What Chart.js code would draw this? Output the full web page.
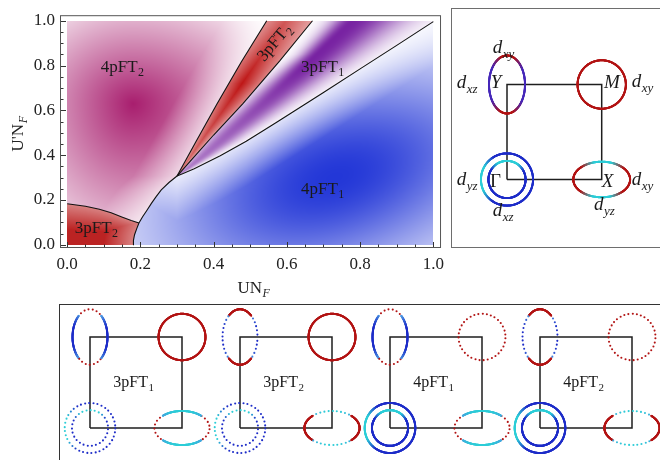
<!DOCTYPE html>
<html>
<head>
<meta charset="utf-8">
<script src="https://cdn.jsdelivr.net/npm/chart.js@4.4.1/dist/chart.umd.min.js"></script>
<style>
body { margin:0; width:660px; height:460px; overflow:hidden; position:relative; background:#fff; }
canvas, .box { position:absolute; }
#boxTop { left:451px; top:8px; width:240px; height:238px; border:1px solid #6e6e6e; }
#boxBottom { left:59px; top:304px; width:640px; height:200px; border:1px solid #333; }
</style>
</head>
<body>
<div class="box" id="boxTop"></div>
<div class="box" id="boxBottom"></div>
<canvas id="phase" width="450" height="300" style="left:0;top:0"></canvas>
<canvas id="bz_top" width="208" height="238" style="left:452px;top:9px"></canvas>
<canvas id="bz_0" width="160" height="155" style="left:58px;top:305px"></canvas>
<canvas id="bz_1" width="160" height="155" style="left:208px;top:305px"></canvas>
<canvas id="bz_2" width="160" height="155" style="left:358px;top:305px"></canvas>
<canvas id="bz_3" width="160" height="155" style="left:508px;top:305px"></canvas>
<script>
// ---- phase diagram (UN_F, U'N_F) ----
const xTickValues = [0, 0.2, 0.4, 0.6, 0.8, 1.0];
const yTickValues = [0, 0.2, 0.4, 0.6, 0.8, 1.0];

// 3pFT2 dome, bottom left
const domeUN  = [0, 0.05, 0.088, 0.12, 0.151, 0.175, 0.196];
const domeUpN = [0.183, 0.172, 0.159, 0.143, 0.123, 0.108, 0.097];
// 4pFT2 | 4pFT1 line up to the triple point
const lowUN  = [0.18, 0.181, 0.184, 0.19, 0.196, 0.206, 0.217, 0.23, 0.243, 0.257, 0.278, 0.3];
const lowUpN = [0, 0.02, 0.045, 0.072, 0.097, 0.125, 0.152, 0.185, 0.215, 0.245, 0.278, 0.307];
// edges of the 3pFT2 wedge
const wedgeLUN  = [0.3, 0.35, 0.409, 0.475, 0.545];
const wedgeLUpN = [0.307, 0.455, 0.628, 0.815, 1.0];
const wedgeRUN  = [0.3, 0.34, 0.40, 0.48, 0.58, 0.67];
const wedgeRUpN = [0.307, 0.38, 0.49, 0.63, 0.82, 1.0];
// 3pFT1 | 4pFT1 line
const edgeUN  = [0.3, 0.315, 0.347, 0.418, 0.489, 0.57, 0.7, 0.8, 0.9, 1.0];
const edgeUpN = [0.307, 0.317, 0.339, 0.397, 0.462, 0.545, 0.68, 0.785, 0.89, 0.996];

// region labels
const phaseText  = ['4pFT', '3pFT', '4pFT', '3pFT', '3pFT'];
const phaseSub   = ['2', '1', '1', '2', '2'];
const phaseLabUN = [0.150, 0.697, 0.697, 0.079, 0.563];
const phaseLabUpN = [0.772, 0.772, 0.226, 0.051, 0.905];
const phaseLabRot = [0, 0, 0, 0, -50];

// ---- Fermi surface sketches ----
const zoneKx = [0, 1, 1, 0, 0];
const zoneKy = [0, 0, 1, 1, 0];
const pocketName = ['Y', 'M', 'Gout', 'Gin', 'X'];
const pocketKx = [0, 1, 0, 0, 1];
const pocketKy = [1, 1, 0, 0, 0];
const pocketRx = [0.19, 0.255, 0.275, 0.196, 0.30];
const pocketRy = [0.305, 0.255, 0.275, 0.196, 0.187];

const stateText = ['3pFT', '3pFT', '4pFT', '4pFT'];
const stateSub  = ['1', '2', '1', '2'];
const solidXY   = [false, true, false, true];   // dxy parts of Y and X
const solidXZYZ = [true, false, true, false];   // dxz / dyz parts of Y and X
const solidM    = [true, true, false, false];
const solidG    = [false, false, true, true];

const mathText = ['d', 'd', 'Y', 'M', 'd', 'd', 'Γ', 'd', 'X', 'd', 'd'];
const mathSub  = ['xy', 'xz', '', '', 'xy', 'yz', '', 'xz', '', 'xy', 'yz'];
const mathKx = [-0.151, -0.531, -0.172, 1.024, 1.316, -0.531, -0.18, -0.151, 1.0, 1.316, 0.919];
const mathKy = [1.332, 0.96, 0.96, 0.96, 0.97, -0.058, -0.076, -0.384, -0.083, -0.058, -0.321];

const SERIF = '"Liberation Serif", "DejaVu Serif", serif';

function clamp(v) { return Math.max(0, Math.min(1, v)); }
function interp(xs, ys, v) {
    if (v <= xs[0]) return ys[0];
    for (let i = 1; i < xs.length; i++) {
        if (v <= xs[i]) return ys[i-1] + (ys[i]-ys[i-1]) * (v-xs[i-1]) / (xs[i]-xs[i-1]);
    }
    return ys[ys.length-1];
}
function mix(a, b, t) { return [a[0]+(b[0]-a[0])*t, a[1]+(b[1]-a[1])*t, a[2]+(b[2]-a[2])*t]; }
function rgb(c) { return 'rgb(' + c.map(Math.round).join(',') + ')'; }

const magenta = [168, 30, 110], wine = [190, 22, 22], violet = [120, 35, 162], royal = [35, 55, 215], brick = [185, 28, 28];

function shade(u, v) {
    let base, t;
    const tripleV = lowUpN[lowUpN.length-1];
    const xa = v < tripleV ? interp(lowUpN, lowUN, v) : interp(wedgeLUpN, wedgeLUN, v);
    if (u < xa) {
        const yb = interp(domeUN, domeUpN, u);
        if (v < yb) {
            base = brick;
            t = 0.55 + 0.42 * Math.min(clamp((1 - v/yb) * 1.6), clamp((xa-u) / 0.08));
        } else {
            base = magenta;
            const dx = u - 0.18, dy = v - 0.63;
            const ax = dx < 0 ? 0.4 : 0.5, ay = dy > 0 ? 0.57 : 0.8;
            const e = clamp(1 - Math.sqrt((dx/ax)*(dx/ax) + (dy/ay)*(dy/ay)));
            t = e * (0.35 + 0.65 * clamp((xa-u) / 0.12));
        }
    } else if (v >= tripleV && u < interp(wedgeRUpN, wedgeRUN, v)) {
        base = wine;
        const xc = interp(wedgeRUpN, wedgeRUN, v);
        const r = (u - xa) / Math.max(1e-6, xc - xa);
        const across = 1 - 0.45 * Math.abs(r - 0.42) / 0.58;
        const along = 0.55 + 0.45 * clamp(1 - Math.abs(v-0.72) / 0.45);
        t = across * along;
    } else if (v >= tripleV && v > interp(edgeUN, edgeUpN, u)) {
        base = violet;
        const xc = interp(wedgeRUpN, wedgeRUN, v), xd = interp(edgeUpN, edgeUN, v);
        const s = (u - xc) / Math.max(1e-6, xd - xc);
        const s0 = 0.33;
        const sigL = 0.17 + 0.25 * clamp((0.85 - v) / 0.4);
        const across = s < s0 ? Math.exp(-Math.pow((s-s0)/sigL, 2)) : Math.exp(-Math.pow((s-s0)/0.42, 2));
        t = across * (0.55 + 0.45 * clamp((v-0.3) / 0.5));
    } else {
        base = royal;
        const dx = u - 0.73, dy = v - 0.3;
        const p = (dx + dy) / Math.SQRT2, q = (dx - dy) / Math.SQRT2;
        const e = Math.exp(-(p/0.56)*(p/0.56) - (q/0.38)*(q/0.38));
        const yd = u >= 0.3 ? interp(edgeUN, edgeUpN, u) : tripleV + (0.3 - u);
        t = e * (0.25 + 0.75 * clamp((yd - v) / 0.2));
    }
    return mix([255, 255, 255], base, clamp(t));
}

function subText(ctx, x, y, main, sub, size, align, italic, subItalic) {
    const mainFont = (italic ? 'italic ' : '') + size + 'px ' + SERIF;
    const subFont = (italic || subItalic ? 'italic ' : '') + Math.round(size * 0.7) + 'px ' + SERIF;
    ctx.font = mainFont;
    const w1 = ctx.measureText(main).width;
    ctx.font = subFont;
    const w2 = sub ? ctx.measureText(sub).width : 0;
    const x0 = align === 'center' ? x - (w1 + w2) / 2 : x;
    ctx.textAlign = 'left';
    ctx.textBaseline = 'alphabetic';
    ctx.font = mainFont;
    ctx.fillText(main, x0, y);
    if (sub) { ctx.font = subFont; ctx.fillText(sub, x0 + w1 + 0.5, y + size * 0.24); }
}

const heatmap = {
    id: 'heatmap',
    beforeDatasetsDraw(chart) {
        const {ctx, scales: {x, y}} = chart;
        const x0 = Math.round(x.getPixelForValue(0)), x1 = Math.round(x.getPixelForValue(1));
        const y0 = Math.round(y.getPixelForValue(1)), y1 = Math.round(y.getPixelForValue(0));
        const w = x1 - x0, h = y1 - y0;
        const img = ctx.createImageData(w, h);
        for (let j = 0; j < h; j++) {
            const v = y.getValueForPixel(y0 + j + 0.5);
            for (let i = 0; i < w; i++) {
                const c = shade(x.getValueForPixel(x0 + i + 0.5), v);
                const k = 4 * (j * w + i);
                img.data[k] = c[0]; img.data[k+1] = c[1]; img.data[k+2] = c[2]; img.data[k+3] = 255;
            }
        }
        ctx.putImageData(img, x0, y0);
    }
};

const frameTicks = {
    id: 'frameTicks',
    afterDraw(chart) {
        const {ctx, chartArea: a, scales: {x, y}} = chart;
        ctx.save();
        ctx.strokeStyle = '#555';
        ctx.lineWidth = 1;
        ctx.strokeRect(a.left + 0.5, a.top + 0.5, a.right - a.left - 1, a.bottom - a.top - 1);
        ctx.strokeStyle = '#333';
        for (let k = 0; k <= 20; k++) {
            const len = k % 4 === 0 ? 5 : 2.5;
            const px = Math.round(x.getPixelForValue(k / 20)) + 0.5;
            const py = Math.round(y.getPixelForValue(k / 20)) + 0.5;
            ctx.beginPath();
            ctx.moveTo(px, a.bottom - 1); ctx.lineTo(px, a.bottom - 1 - len);
            ctx.moveTo(a.left + 1, py); ctx.lineTo(a.left + 1 + len, py);
            ctx.stroke();
        }
        ctx.fillStyle = '#1a1a1a';
        for (let i = 0; i < phaseText.length; i++) {
            ctx.save();
            ctx.translate(x.getPixelForValue(phaseLabUN[i]), y.getPixelForValue(phaseLabUpN[i]));
            ctx.rotate(phaseLabRot[i] * Math.PI / 180);
            subText(ctx, 0, phaseLabRot[i] ? 6 : 0, phaseText[i], phaseSub[i], 17, 'center', false, false);
            ctx.restore();
        }
        // axis titles
        ctx.fillStyle = '#222';
        subText(ctx, (a.left + a.right) / 2 + 3, 293, 'UN', 'F', 17, 'center', false, true);
        ctx.save();
        ctx.translate(23, 134);
        ctx.rotate(-Math.PI / 2);
        subText(ctx, 0, 0, "U'N", 'F', 17, 'center', false, true);
        ctx.restore();
        ctx.restore();
    }
};

function boundary(xs, ys) {
    return {
        data: xs.map((u, i) => ({x: u, y: ys[i]})),
        showLine: true, borderColor: '#111', borderWidth: 1.1,
        pointRadius: 0, tension: 0, fill: false
    };
}

let phase_chart = new Chart(document.getElementById('phase'), {
    type: 'scatter',
    data: {
        datasets: [
            boundary(domeUN, domeUpN),
            boundary(lowUN, lowUpN),
            boundary(wedgeLUN, wedgeLUpN),
            boundary(wedgeRUN, wedgeRUpN),
            boundary(edgeUN, edgeUpN)
        ]
    },
    options: {
        responsive: false, animation: false, events: [],
        layout: {padding: {top: 8, right: 2, left: 0, bottom: 0}},
        plugins: {legend: {display: false}, tooltip: {enabled: false}},
        scales: {
            x: {
                type: 'linear', min: -0.0196, max: 1.021,
                afterBuildTicks: s => { s.ticks = xTickValues.map(v => ({value: v})); },
                afterFit: s => { s.height = 52; },
                grid: {display: false, drawTicks: false}, border: {display: false},
                ticks: {padding: 6, color: '#222', font: {family: SERIF, size: 17}, maxRotation: 0, autoSkip: false,
                        callback: v => v.toFixed(1)}
            },
            y: {
                type: 'linear', min: -0.0143, max: 1.0247,
                afterBuildTicks: s => { s.ticks = yTickValues.map(v => ({value: v})); },
                afterFit: s => { s.width = 60; },
                grid: {display: false, drawTicks: false}, border: {display: false},
                ticks: {padding: 5, color: '#222', font: {family: SERIF, size: 17}, autoSkip: false,
                        callback: v => v.toFixed(1)}
            }
        }
    },
    plugins: [heatmap, frameTicks]
});

// ---- Fermi surface sketches ----
const red = [178, 20, 20], blueD = [30, 45, 200], blueL = [75, 150, 225], cyan = [45, 205, 215], indigo = [70, 40, 185];

function orbital(name, th) {
    const c = Math.abs(Math.cos(th));
    if (name === 'Y') return c > 0.64 ? 'xz' : 'xy';
    if (name === 'X') return c < 0.70 ? 'yz' : 'xy';
    if (name === 'M') return 'm';
    return 'g';
}

function pocketColor(name, th, smooth) {
    const c = Math.abs(Math.cos(th));
    if (name === 'Y') {
        if (smooth) return mix(red, indigo, clamp((c - 0.35) / 0.5));
        return c > 0.64 ? mix(blueL, blueD, clamp((c - 0.64) / 0.3)) : red;
    }
    if (name === 'X') {
        if (smooth) return mix(red, cyan, clamp((0.75 - c) / 0.45));
        return c < 0.70 ? mix(cyan, blueL, Math.pow(c / 0.7, 3) * 0.7) : red;
    }
    if (name === 'M') return red;
    if (name === 'Gout') return mix(blueD, cyan, clamp((-Math.cos(th) - 0.55) / 0.35));
    return mix(blueD, cyan, clamp((Math.sin(th) - 0.5) / 0.35));
}

function drawPocket(ctx, xs, ys, i, solid, smooth) {
    const name = pocketName[i];
    const cx = xs.getPixelForValue(pocketKx[i]), cy = ys.getPixelForValue(pocketKy[i]);
    const rx = xs.getPixelForValue(pocketKx[i] + pocketRx[i]) - cx;
    const ry = cy - ys.getPixelForValue(pocketKy[i] + pocketRy[i]);
    const n = 360;
    let acc = 2;
    ctx.lineCap = 'round';
    ctx.lineWidth = 2;
    for (let k = 0; k < n; k++) {
        const t0 = 2 * Math.PI * k / n, t1 = 2 * Math.PI * (k + 1) / n, tm = (t0 + t1) / 2;
        const xa = cx + rx * Math.cos(t0), ya = cy - ry * Math.sin(t0);
        const xb = cx + rx * Math.cos(t1), yb = cy - ry * Math.sin(t1);
        const col = rgb(pocketColor(name, tm, smooth));
        if (solid[orbital(name, tm)]) {
            ctx.strokeStyle = col;
            ctx.beginPath(); ctx.moveTo(xa, ya); ctx.lineTo(xb, yb); ctx.stroke();
        } else {
            acc += Math.hypot(xb - xa, yb - ya);
            if (acc >= 4.2) {
                acc -= 4.2;
                ctx.fillStyle = col;
                ctx.beginPath(); ctx.arc(xb, yb, 1.05, 0, 2 * Math.PI); ctx.fill();
            }
        }
    }
}

function fermi_chart(id, range, solid, smooth, label, labelSub) {
    const pockets = {
        id: 'pockets',
        afterDatasetsDraw(chart) {
            const {ctx, scales: {x, y}} = chart;
            ctx.save();
            for (let i = 0; i < pocketName.length; i++) drawPocket(ctx, x, y, i, solid, smooth);
            ctx.fillStyle = '#1a1a1a';
            if (label) {
                subText(ctx, x.getPixelForValue(0.472), y.getPixelForValue(0.454), label, labelSub, 16, 'center', false, false);
            } else {
                for (let i = 0; i < mathText.length; i++) {
                    const italic = mathText[i] !== 'Γ';
                    subText(ctx, x.getPixelForValue(mathKx[i]), y.getPixelForValue(mathKy[i]), mathText[i], mathSub[i], 19, 'left', italic, italic);
                }
            }
            ctx.restore();
        }
    };
    return new Chart(document.getElementById(id), {
        type: 'scatter',
        data: {
            datasets: [{
                data: zoneKx.map((k, i) => ({x: k, y: zoneKy[i]})),
                showLine: true, borderColor: '#1e1e1e', borderWidth: 1.5,
                pointRadius: 0, tension: 0, fill: false
            }]
        },
        options: {
            responsive: false, animation: false, events: [],
            layout: {padding: 0},
            plugins: {legend: {display: false}, tooltip: {enabled: false}},
            scales: {
                x: {type: 'linear', display: false, min: range[0], max: range[1]},
                y: {type: 'linear', display: false, min: range[2], max: range[3]}
            }
        },
        plugins: [pockets]
    });
}

fermi_chart('bz_top', [-0.5808, 1.6156, -0.7105, 1.7947],
    {xy: true, xz: true, yz: true, m: true, g: true}, true, null, null);

for (let k = 0; k < 4; k++) {
    fermi_chart('bz_' + k, [-32 / 92, 128 / 92, -32 / 91, 123 / 91],
        {xy: solidXY[k], xz: solidXZYZ[k], yz: solidXZYZ[k], m: solidM[k], g: solidG[k]},
        false, stateText[k], stateSub[k]);
}
</script>
</body>
</html>
